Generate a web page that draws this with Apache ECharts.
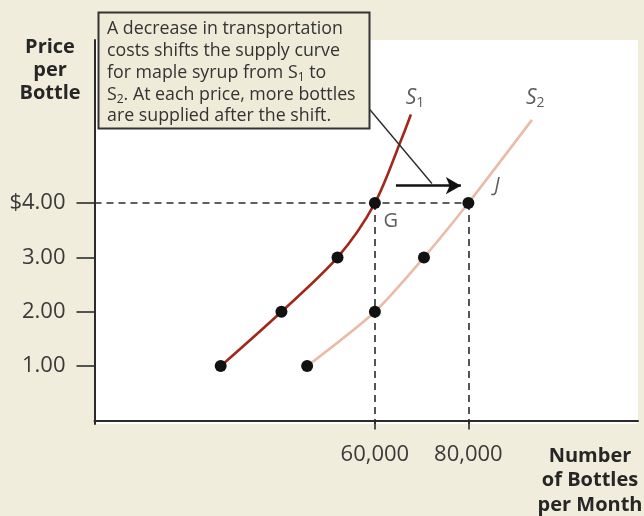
<!DOCTYPE html>
<html>
<head>
<meta charset="utf-8">
<script src="https://cdn.jsdelivr.net/npm/echarts@6/dist/echarts.min.js"></script>
<style>
  html, body { margin: 0; padding: 0; background: #f1eddc; }
  #chart { width: 644px; height: 516px; }
</style>
</head>
<body>
<div id="chart"></div>
<script>
// Supply of maple syrup before (S1) and after (S2) a fall in transportation costs
const prices = [1, 2, 3, 4];
const s1Qty = [27000, 40000, 52000, 60000];
const s2Qty = [45500, 60000, 70500, 80000];
// upper reach of each supply curve, above the marked points
const s1Upper = [[65800, 5.2], [67700, 5.63]];
const s2Upper = [[93600, 5.53]];
const priceTicks = [1, 2, 3, 4];
const qtyTicks = [60000, 80000];
const pointG = [60000, 4];
const pointJ = [80000, 4];

const FONT = '"Open Sans", "Noto Sans", sans-serif';
const INK = '#2b2b2b';

const s1Points = s1Qty.map((q, i) => [q, prices[i]]);
const s2Points = s2Qty.map((q, i) => [q, prices[i]]);

const chart = echarts.init(document.getElementById('chart'), null, { renderer: 'canvas' });

const dashed = { type: [7, 5], color: INK, width: 1.6 };

chart.setOption({
  animation: false,
  backgroundColor: '#f1eddc',
  grid: {
    left: 94.5, top: 40, right: 6, bottom: 92,
    show: true, backgroundColor: '#ffffff', borderWidth: 0
  },
  xAxis: {
    type: 'value', min: 0, max: 116300,
    splitLine: { show: false },
    axisLine: { lineStyle: { color: INK, width: 2 } },
    axisTick: { show: true, customValues: qtyTicks, length: 9, lineStyle: { color: INK, width: 1.6 } },
    axisLabel: {
      customValues: qtyTicks, margin: 20,
      fontFamily: FONT, fontSize: 22, color: '#3a3a3a',
      formatter: v => v.toLocaleString('en-US')
    }
  },
  yAxis: {
    type: 'value', min: -0.065, max: 7,
    splitLine: { show: false },
    axisLine: { lineStyle: { color: INK, width: 2 } },
    axisTick: { show: true, customValues: priceTicks, length: 18, lineStyle: { color: INK, width: 1.6 } },
    axisLabel: {
      customValues: priceTicks, margin: 29,
      fontFamily: FONT, fontSize: 22, color: '#3a3a3a',
      formatter: v => (v === 4 ? '$' : '') + v.toFixed(2)
    }
  },
  series: [
    {
      name: 'S1', type: 'line', smooth: 0.3, showSymbol: false, z: 3,
      data: s1Points.concat(s1Upper),
      lineStyle: { color: '#a1281b', width: 2.6 }
    },
    {
      name: 'S2', type: 'line', smooth: 0.25, showSymbol: false, z: 3,
      data: s2Points.concat(s2Upper),
      lineStyle: { color: '#e9bba9', width: 2.6 },
      markLine: {
        silent: true, symbol: 'none', label: { show: false },
        lineStyle: dashed,
        data: [
          [{ coord: [0, pointG[1]] }, { coord: pointJ }],
          [{ coord: pointG }, { coord: [pointG[0], -0.065] }],
          [{ coord: pointJ }, { coord: [pointJ[0], -0.065] }]
        ]
      }
    },
    {
      name: 'points', type: 'scatter', z: 5,
      symbolSize: 12,
      itemStyle: { color: '#111111', opacity: 1 },
      data: s1Points.concat(s2Points)
    },
    {
      // annotation arrows: leader from the note box and the shift arrow
      name: 'notes', type: 'line', data: [], z: 4,
      markLine: {
        silent: true, label: { show: false },
        data: [
          [
            { coord: [58900, 5.72], symbol: 'none', lineStyle: { color: INK, width: 1.4, type: 'solid' } },
            { coord: [72200, 4.36], symbol: 'none' }
          ],
          [
            { coord: [64500, 4.32], symbol: 'none', lineStyle: { color: '#111', width: 2.6, type: 'solid' } },
            { coord: [78400, 4.32], symbol: 'arrow', symbolSize: [13, 15] }
          ]
        ]
      }
    },
    {
      name: 'labels', type: 'scatter', z: 6, symbolSize: 0, silent: true,
      label: {
        show: true, position: 'inside', formatter: p => p.data.text,
        fontFamily: FONT, color: '#333',
        rich: {
          s: { fontFamily: FONT, fontSize: 21, fontStyle: 'italic', color: '#333', lineHeight: 24 },
          sub: { fontFamily: FONT, fontSize: 14, color: '#333', lineHeight: 24, verticalAlign: 'bottom' },
          g: { fontFamily: FONT, fontSize: 20, color: '#333' },
          j: { fontFamily: FONT, fontSize: 20, fontStyle: 'italic', color: '#333' }
        }
      },
      data: [
        { value: [68600, 5.94], text: '{s|S}{sub|1}' },
        { value: [94300, 5.94], text: '{s|S}{sub|2}' },
        { value: [63400, 3.66], text: '{g|G}' },
        { value: [86100, 4.32], text: '{j|J}' }
      ]
    }
  ],
  graphic: [
    {
      type: 'text', x: 50, y: 36, z: 100,
      style: {
        text: 'Price\nper\nBottle', align: 'center', verticalAlign: 'top',
        font: 'bold 20px ' + FONT, lineHeight: 23, fill: '#262626'
      }
    },
    {
      type: 'text', x: 590, y: 444, z: 100,
      style: {
        text: 'Number\nof Bottles\nper Month', align: 'center', verticalAlign: 'top',
        font: 'bold 20px ' + FONT, lineHeight: 24.5, fill: '#262626'
      }
    },
    {
      type: 'rect', z: 100,
      shape: { x: 98.5, y: 12.5, width: 271, height: 116 },
      style: { fill: '#efebd9', stroke: '#333', lineWidth: 2 }
    },
    {
      type: 'text', x: 107, y: 18.5, z: 101,
      style: {
        text: 'A decrease in transportation\ncosts shifts the supply curve\nfor maple syrup from {s|S}{sub|1} to\n{s|S}{sub|2}. At each price, more bottles\nare supplied after the shift.',
        font: '17.8px ' + FONT, fill: '#333', lineHeight: 21.7, verticalAlign: 'top',
        rich: {
          s: { font: '17.8px ' + FONT, fill: '#333', lineHeight: 21.7 },
          sub: { font: '12px ' + FONT, fill: '#333', lineHeight: 21.7, verticalAlign: 'bottom' }
        }
      }
    }
  ]
});
</script>
</body>
</html>
